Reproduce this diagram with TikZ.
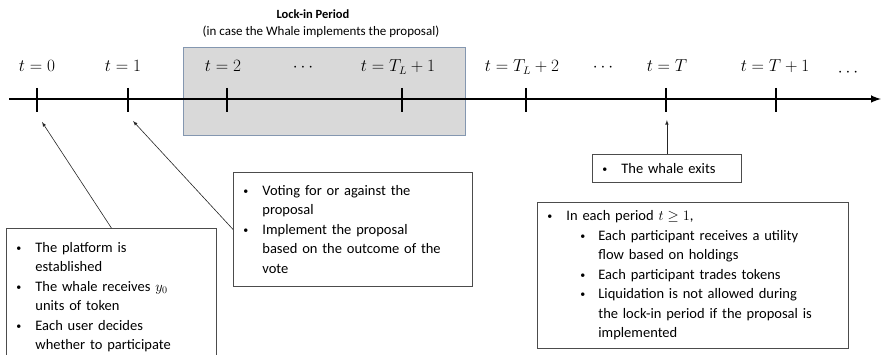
\documentclass[tikz,border=0pt]{standalone}
\usepackage{fontspec}
\setmainfont{Carlito}
\usetikzlibrary{arrows,positioning,calc}
\definecolor{lockfill}{HTML}{D9D9D9}
\definecolor{lockedge}{HTML}{8497B0}
\newcommand{\dotmark}{\raisebox{.15ex}{\fontsize{10}{10}\selectfont\textbullet}}
\newcommand{\bul}{\makebox[19pt][l]{\dotmark}}
\newcommand{\ind}{\hspace*{19pt}}
\newcommand{\subbul}{\hspace*{33pt}\makebox[18pt][l]{\dotmark}}
\newcommand{\subind}{\hspace*{51pt}}

\begin{document}
\begin{tikzpicture}[x=1pt,y=-1pt,
    infobox/.style={draw=black!70, line width=.8pt, anchor=north west, inner xsep=10pt, inner ysep=0pt, align=left, font=\fontsize{14.5}{19.5}\selectfont},
    tlabel/.style={anchor=base, font=\fontsize{16}{18}\selectfont},
    tickline/.style={line width=2.4pt},
    pointer/.style={-latex, line width=.6pt, draw=black!85}]
        \useasboundingbox (0,0) rectangle (881,355);
        % lock-in window
        \draw node[draw=lockedge, fill=lockfill, line width=.9pt, inner sep=0, minimum width=282pt, minimum height=88pt, anchor=north west] (lock) at (183,47) {};
        \draw node[font=\fontsize{12.5}{15}\selectfont\bfseries] (title) at (313,14) {Lock-in Period};
        \draw node[font=\fontsize{13}{15}\selectfont] (subtitle) at (321,32) {(in case the Whale implements the proposal)};
        % time axis
        \coordinate (ax0) at (9,99);
        \coordinate (ax1) at (881,99);
        \draw[line width=2.4pt, -latex] (ax0) -- (ax1);
        \foreach \x [count=\i from 0] in {37,128,227,402,526,666,776}
          \draw[tickline] (\x,88) -- (\x,112) coordinate (tk\i);
        \draw node[tlabel] (l0) at (37,72) {$t=0$};
        \draw node[tlabel] (l1) at (123,72) {$t=1$};
        \draw node[tlabel] (l2) at (223,72) {$t=2$};
        \draw node[tlabel] (d1) at (303,72) {$\cdots$};
        \draw node[tlabel] (l3) at (398,72) {$t=T_L+1$};
        \draw node[tlabel] (l4) at (522,72) {$t=T_L+2$};
        \draw node[tlabel] (d2) at (603,72) {$\cdots$};
        \draw node[tlabel] (l5) at (667,72) {$t=T$};
        \draw node[tlabel] (l6) at (775,72) {$t=T+1$};
        \draw node[tlabel] (d3) at (848,77) {$\cdots$};
        % event boxes
        \draw node[infobox, inner ysep=14pt, text width=190pt] (b0) at (6,228)
          {\bul The platform is\\\ind established\\
           \bul The whale receives $y_0$\\\ind units of token\\
           \bul Each user decides\\\ind whether to participate};
        \draw node[infobox, text width=219pt, minimum height=114pt] (b1) at (233,172)
          {\bul Voting for or against the\\\ind proposal\\
           \bul Implement the proposal\\\ind based on the outcome of the\\\ind vote};
        \draw node[infobox, text width=129pt, minimum height=28pt] (b2) at (592,154)
          {\bul The whale exits};
        \draw node[infobox, text width=291pt, minimum height=146pt] (b3) at (537,202)
          {\bul In each period $t\geq 1$,\\
           \subbul Each participant receives a utility\\\subind flow based on holdings\\
           \subbul Each participant trades tokens\\
           \subbul Liquidation is not allowed during\\\subind the lock-in period if the proposal is\\\subind implemented};
        % pointers to the time axis
        \coordinate (p0) at ($(tk0)+(5,10)$);
        \coordinate (p1) at ($(tk1)+(5,9)$);
        \coordinate (p5) at ($(tk5)+(0,8)$);
        \draw (b0.north) edge[pointer] (p0);
        \draw (b1.west) edge[pointer] (p1);
        \draw (b2.north) edge[pointer] (b2.north |- p5);
\end{tikzpicture}
\end{document}
